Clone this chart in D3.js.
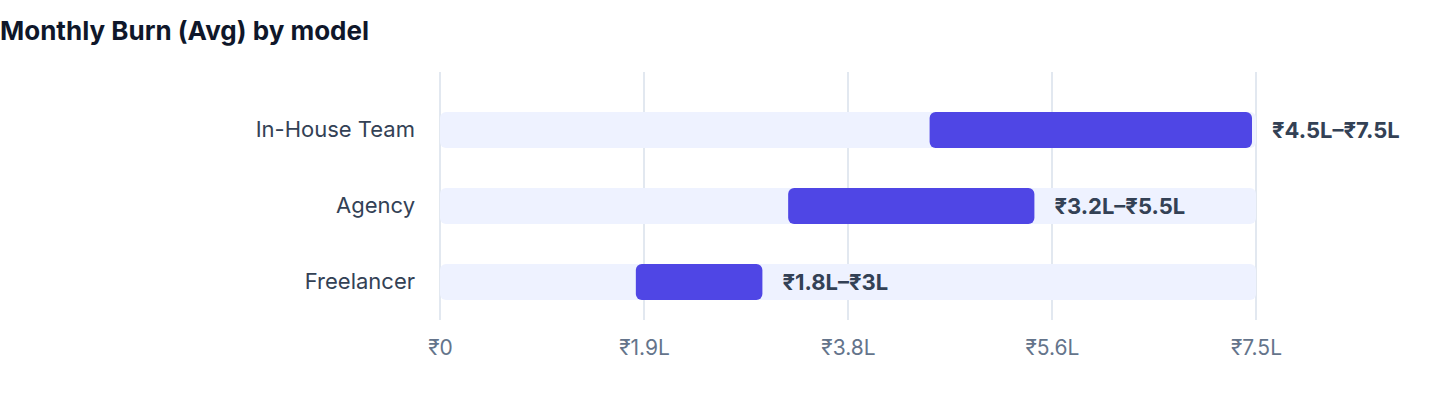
<!DOCTYPE html>
<html>
<head>
<meta charset="utf-8">
<script src="https://cdn.jsdelivr.net/npm/d3@7"></script>
<style>
  html, body { margin: 0; padding: 0; background: #ffffff; }
  svg { display: block; font-family: Inter, "Noto Sans", sans-serif; }
</style>
</head>
<body>
<svg id="chart" width="1440" height="408"></svg>
<script>
const title = "Monthly Burn (Avg) by model";
const categories = ["In-House Team", "Agency", "Freelancer"];
const lowValues = [4.5, 3.2, 1.8];
const highValues = [7.5, 5.5, 3.0];
const rangeLabels = ["₹4.5L–₹7.5L", "₹3.2L–₹5.5L", "₹1.8L–₹3L"];
const tickValues = [0, 1.875, 3.75, 5.625, 7.5];
const tickLabels = ["₹0", "₹1.9L", "₹3.8L", "₹5.6L", "₹7.5L"];
const domainMax = 7.5;

const svg = d3.select("#chart");

const x = d3.scaleLinear().domain([0, domainMax]).range([440, 1256]);
const y = d3.scaleBand().domain(categories).range([92, 320]).paddingInner(0.526).paddingOuter(0.263);

svg.append("text")
  .attr("x", 0).attr("y", 40)
  .attr("font-size", 26).attr("font-weight", 700)
  .attr("fill", "#0f172a")
  .text(title);

// gridlines
svg.append("g").selectAll("line")
  .data(tickValues)
  .join("line")
  .attr("x1", d => x(d)).attr("x2", d => x(d))
  .attr("y1", 72).attr("y2", 320)
  .attr("stroke", "#e2e8f0").attr("stroke-width", 2);

// x axis labels
const xAxis = d3.axisBottom(x).tickValues(tickValues).tickFormat((d, i) => tickLabels[i]).tickSize(0).tickPadding(0);
const gx = svg.append("g").attr("transform", "translate(0,348)").call(xAxis);
gx.select(".domain").remove();
gx.selectAll("text")
  .attr("dy", "0.35em").attr("y", 0)
  .attr("font-family", "Inter, 'Noto Sans', sans-serif")
  .attr("font-size", 21).attr("fill", "#64748b");

// y axis labels
const yAxis = d3.axisLeft(y).tickSize(0).tickPadding(0);
const gy = svg.append("g").attr("transform", "translate(415,0)").call(yAxis);
gy.select(".domain").remove();
gy.selectAll("text")
  .attr("x", 0)
  .attr("font-family", "Inter, 'Noto Sans', sans-serif")
  .attr("font-size", 22).attr("fill", "#334155");

const rows = categories.map((c, i) => ({ c, lo: lowValues[i], hi: highValues[i], label: rangeLabels[i] }));

// tracks
svg.append("g").selectAll("rect")
  .data(rows)
  .join("rect")
  .attr("x", x(0)).attr("y", d => y(d.c))
  .attr("width", x(domainMax) - x(0)).attr("height", y.bandwidth())
  .attr("rx", 6).attr("fill", "#eef2ff");

// range bars
svg.append("g").selectAll("rect")
  .data(rows)
  .join("rect")
  .attr("x", d => x(d.lo)).attr("y", d => y(d.c))
  .attr("width", d => x(d.hi) - x(d.lo) - 4).attr("height", y.bandwidth())
  .attr("rx", 6).attr("fill", "#4f46e5");

// value labels
svg.append("g").selectAll("text")
  .data(rows)
  .join("text")
  .attr("x", d => x(d.hi) + 16)
  .attr("y", d => y(d.c) + y.bandwidth() / 2)
  .attr("dy", "0.35em")
  .attr("font-size", 22).attr("font-weight", 700)
  .attr("fill", "#334155")
  .text(d => d.label);
</script>
</body>
</html>
